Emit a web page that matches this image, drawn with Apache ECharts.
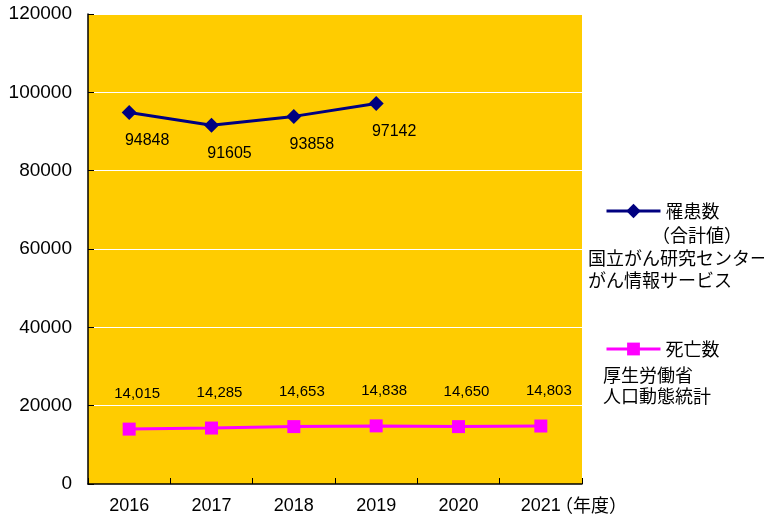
<!DOCTYPE html>
<html>
<head>
<meta charset="utf-8">
<script src="https://cdn.jsdelivr.net/npm/echarts@6/dist/echarts.min.js"></script>
<style>
html,body{margin:0;padding:0;background:#fff;}
#chart{width:764px;height:517px;}
</style>
</head>
<body>
<div id="chart"></div>
<script>
const years = ['2016', '2017', '2018', '2019', '2020', '2021'];
const incidence = [94848, 91605, 93858, 97142, null, null];
const deaths = [14015, 14285, 14653, 14838, 14650, 14803];
const yTicks = { min: 0, max: 120000, interval: 20000 };
const incidenceName = '罹患数';
const deathsName = '死亡数';
const incidenceNotes = ['（合計値）', '国立がん研究センター', 'がん情報サービス'];
const deathsNotes = ['厚生労働省', '人口動態統計'];
const xUnit = '（年度）';

const FF = "'Liberation Sans', 'Noto Sans CJK JP', sans-serif";
const CJK = "'Noto Sans CJK JP', sans-serif";

const chart = echarts.init(document.getElementById('chart'));
chart.setOption({
  animation: false,
  textStyle: { fontFamily: FF, color: '#000' },
  grid: {
    left: 88, right: 182, top: 14, bottom: 33,
    show: true, backgroundColor: '#FFCC00', borderWidth: 0
  },
  xAxis: {
    type: 'category',
    data: years,
    boundaryGap: true,
    axisLine: { lineStyle: { color: '#000', width: 1.5 } },
    axisTick: { show: true, inside: true, length: 6, lineStyle: { color: '#000' } },
    axisLabel: { color: '#000', fontSize: 18, margin: 13, fontFamily: FF }
  },
  yAxis: {
    type: 'value',
    min: yTicks.min, max: yTicks.max, interval: yTicks.interval,
    axisLine: { show: true, lineStyle: { color: '#000', width: 1.5 } },
    axisTick: { show: true, inside: true, length: 6, lineStyle: { color: '#000' } },
    splitLine: { show: true, lineStyle: { color: '#FFFFFF', width: 1 } },
    axisLabel: { color: '#000', fontSize: 19, margin: 16, fontFamily: FF, formatter: v => String(v) }
  },
  legend: [
    {
      data: [incidenceName],
      left: 605, top: 202, padding: 0,
      itemWidth: 54, itemHeight: 18, itemGap: 5,
      lineStyle: { width: 3 },
      textStyle: { fontSize: 18, fontFamily: CJK, color: '#000' }
    },
    {
      data: [deathsName],
      left: 605, top: 340, padding: 0,
      itemWidth: 54, itemHeight: 16, itemGap: 5,
      lineStyle: { width: 3 },
      textStyle: { fontSize: 18, fontFamily: CJK, color: '#000' }
    }
  ],
  graphic: [
    { type: 'text', left: 652, top: 226, style: { text: incidenceNotes[0], font: "18px " + CJK, fill: '#000' } },
    { type: 'text', left: 588, top: 249, style: { text: incidenceNotes[1], font: "18px " + CJK, fill: '#000' } },
    { type: 'text', left: 588, top: 271, style: { text: incidenceNotes[2], font: "18px " + CJK, fill: '#000' } },
    { type: 'text', left: 603, top: 366, style: { text: deathsNotes[0], font: "18px " + CJK, fill: '#000' } },
    { type: 'text', left: 603, top: 387, style: { text: deathsNotes[1], font: "18px " + CJK, fill: '#000' } },
    { type: 'text', left: 555, top: 496, style: { text: xUnit, font: "18px " + CJK, fill: '#000' } }
  ],
  series: [
    {
      name: incidenceName,
      type: 'line',
      data: incidence,
      color: '#000080',
      lineStyle: { color: '#000080', width: 3 },
      itemStyle: { color: '#000080' },
      symbol: 'diamond',
      symbolSize: 15,
      connectNulls: false,
      label: {
        show: true, position: 'bottom', distance: 13, offset: [18, 0],
        fontSize: 16, color: '#000', fontFamily: FF,
        formatter: p => String(p.value)
      }
    },
    {
      name: deathsName,
      type: 'line',
      data: deaths,
      color: '#FF00FF',
      lineStyle: { color: '#FF00FF', width: 3 },
      itemStyle: { color: '#FF00FF' },
      symbol: 'rect',
      symbolSize: 13,
      label: {
        show: true, position: 'top', distance: 21, offset: [8, 0],
        fontSize: 15, color: '#000', fontFamily: FF,
        formatter: p => p.value.toLocaleString('en-US')
      }
    }
  ]
});
</script>
</body>
</html>
